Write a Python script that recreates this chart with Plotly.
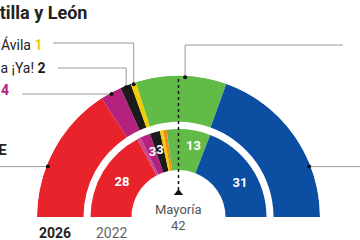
import math
import plotly.graph_objects as go

# ---------------- data ----------------
parties_2026 = ["PSOE", "UPL", "Soria ¡Ya!", "Por Ávila", "Vox", "PP"]
seats_2026 = [26, 4, 2, 1, 17, 32]

parties_2022 = ["PSOE", "Podemos", "UPL", "Soria ¡Ya!", "Por Ávila", "Cs", "Vox", "PP"]
seats_2022 = [28, 1, 3, 3, 1, 1, 13, 31]

majority = 42
title_text = "Castilla y León"
year_labels = ["2026", "2022"]

colors = {
    "PSOE": "#e8232b",
    "Podemos": "#c9458f",
    "UPL": "#b3237d",
    "Soria ¡Ya!": "#1b1b1b",
    "Por Ávila": "#f3cd00",
    "Cs": "#f08a1c",
    "Vox": "#62bb46",
    "PP": "#0b4ea2",
}

# ---------------- geometry (px) ----------------
W, H = 360, 240
CX, CY, R_OUT = 178.5, 217.0, 141.5
OUT_IN, OUT_OUT = 95.0, 141.5
IN_IN, IN_OUT = 47.0, 88.0
FONT = "Roboto"


def px(x, y):
    return x / W, 1 - y / H


def slices(seats):
    total = sum(seats)
    deg = 180.0 / total
    res = []
    start = 180.0
    for s in seats:
        w = s * deg
        res.append((start - w / 2, w))
        start -= w
    return res


def polar_px(r, theta):
    t = math.radians(theta)
    return CX + r * math.cos(t), CY - r * math.sin(t)


fig = go.Figure()

s26 = slices(seats_2026)
s22 = slices(seats_2022)

fig.add_trace(go.Barpolar(
    theta=[c for c, w in s26], width=[w for c, w in s26],
    r=[OUT_OUT - OUT_IN] * len(s26), base=[OUT_IN] * len(s26),
    marker=dict(color=[colors[p] for p in parties_2026], line=dict(width=0)),
    hoverinfo="skip", showlegend=False))

fig.add_trace(go.Barpolar(
    theta=[c for c, w in s22], width=[w for c, w in s22],
    r=[IN_OUT - IN_IN] * len(s22), base=[IN_IN] * len(s22),
    marker=dict(color=[colors[p] for p in parties_2022], line=dict(width=0)),
    hoverinfo="skip", showlegend=False))

# inner ring seat numbers (only those >1); big slices get a custom label angle
label_shift = {"PSOE": (66, None), "Vox": (72, 78.0), "PP": (70, 28.5)}
lab_th, lab_r, lab_tx = [], [], []
for p, (c, w), s in zip(parties_2022, s22, seats_2022):
    if s > 1:
        r, th = label_shift.get(p, (69, None))
        lab_th.append(th if th is not None else c)
        lab_r.append(r)
        lab_tx.append(f"<b>{s}</b>")
fig.add_trace(go.Scatterpolar(
    theta=lab_th, r=lab_r, text=lab_tx, mode="text",
    textfont=dict(color="white", size=13, family=FONT),
    hoverinfo="skip", showlegend=False))

# majority line + marker
fig.add_trace(go.Scatterpolar(
    theta=[90, 90], r=[27, 140], mode="lines",
    line=dict(color="#111", width=1.5, dash="dot"),
    hoverinfo="skip", showlegend=False))
fig.add_trace(go.Scatterpolar(
    theta=[90], r=[24], mode="markers",
    marker=dict(symbol="triangle-up", size=8, color="#111"),
    hoverinfo="skip", showlegend=False))

# label anchor angles for the 2026 ring
anchor_theta = {}
for p, (c, w) in zip(parties_2026, s26):
    anchor_theta[p] = c
anchor_theta["PSOE"] = 158.9
anchor_theta["PP"] = 21.1
anchor_theta["Vox"] = 87.3
R_DOT = 140

fig.add_trace(go.Scatterpolar(
    theta=[anchor_theta[p] for p in parties_2026], r=[R_DOT] * len(parties_2026),
    mode="markers", marker=dict(size=4, color="#111"),
    hoverinfo="skip", showlegend=False))

shapes = []
annotations = []
LC = "#9a9a9a"


def seg(x0, y0, x1, y1):
    a0 = px(x0, y0)
    a1 = px(x1, y1)
    shapes.append(dict(type="line", xref="paper", yref="paper",
                       x0=a0[0], y0=a0[1], x1=a1[0], y1=a1[1],
                       line=dict(color=LC, width=1), layer="below"))


# Por Ávila
dx, dy = polar_px(R_DOT, anchor_theta["Por Ávila"])
seg(dx, dy, dx, 43); seg(dx, 43, 53, 43)
# Soria ¡Ya!
dx, dy = polar_px(R_DOT, anchor_theta["Soria ¡Ya!"])
seg(dx, dy, dx, 68); seg(dx, 68, 58, 68)
# UPL
dx, dy = polar_px(R_DOT, anchor_theta["UPL"])
seg(dx, dy, 22, dy)
upl_y = dy
# PSOE
dx, dy = polar_px(R_DOT, anchor_theta["PSOE"])
seg(dx, dy, -5, dy)
# PP
dx, dy = polar_px(R_DOT, anchor_theta["PP"])
seg(dx, dy, 365, dy)
# Vox
dx, dy = polar_px(R_DOT, anchor_theta["Vox"])
seg(dx, dy, dx, 45); seg(dx, 45, 343, 45)


def ann(x, y, text, size=13, color="#222", xanchor="right", yanchor="middle"):
    ax, ay = px(x, y)
    annotations.append(dict(x=ax, y=ay, xref="paper", yref="paper", text=text,
                            showarrow=False, xanchor=xanchor, yanchor=yanchor,
                            font=dict(size=size, color=color, family=FONT)))


seat = dict(zip(parties_2026, seats_2026))
ann(89, 12, f"<b>{title_text}</b>", size=18, color="#222")
ann(44, 44, f"Por Ávila <b><span style='color:{colors['Por Ávila']}'>{seat['Por Ávila']}</span></b>", size=14)
ann(48, 68, f"Soria ¡Ya! <b><span style='color:{colors['Soria ¡Ya!']}'>{seat['Soria ¡Ya!']}</span></b>", size=14)
ann(11, upl_y - 4, f"UPL <b><span style='color:{colors['UPL']}'>{seat['UPL']}</span></b>", size=14)
ann(9, 150, "<b>PSOE</b>", size=15)

ann(CX, 209, "Mayoría", size=13, color="#555", xanchor="center")
ann(CX, 225, f"{majority}", size=13, color="#555", xanchor="center")

ann(37, 233, f"<b>{year_labels[0]}</b>", size=14, color="#222", xanchor="left")
ann(94, 233, year_labels[1], size=14, color="#666", xanchor="left")

x0, y0 = px(CX - R_OUT, CY)
x1, y1 = px(CX + R_OUT, CY - R_OUT)

fig.update_layout(
    width=W, height=H,
    margin=dict(l=0, r=0, t=0, b=0),
    paper_bgcolor="white", plot_bgcolor="white",
    polar=dict(
        domain=dict(x=[x0, x1], y=[y0, y1]),
        sector=[0, 180],
        bgcolor="rgba(0,0,0,0)",
        radialaxis=dict(range=[0, R_OUT], visible=False, showgrid=False),
        angularaxis=dict(visible=False, showgrid=False, rotation=0,
                         direction="counterclockwise", thetaunit="degrees"),
        bargap=0,
    ),
    shapes=shapes,
    annotations=annotations,
    showlegend=False,
)

fig.write_html("out.html")
